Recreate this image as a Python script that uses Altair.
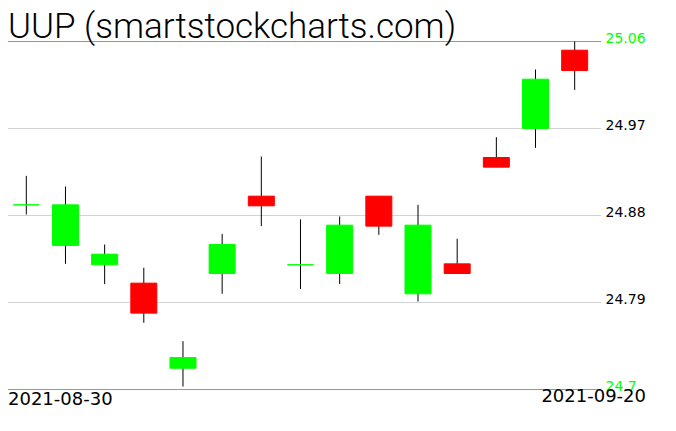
import altair as alt
import pandas as pd

# ---- data ----
dates = ["2021-08-30", "2021-08-31", "2021-09-01", "2021-09-02", "2021-09-03",
         "2021-09-07", "2021-09-08", "2021-09-09", "2021-09-10", "2021-09-13",
         "2021-09-14", "2021-09-15", "2021-09-16", "2021-09-17", "2021-09-20"]
opens = [24.891, 24.849, 24.829, 24.810, 24.722, 24.820, 24.900, 24.829,
         24.820, 24.900, 24.799, 24.830, 24.940, 24.970, 25.051]
closes = [24.891, 24.891, 24.840, 24.779, 24.733, 24.850, 24.890, 24.829,
          24.870, 24.869, 24.870, 24.820, 24.930, 25.021, 25.030]
highs = [24.921, 24.910, 24.850, 24.826, 24.750, 24.861, 24.941, 24.876,
         24.879, 24.900, 24.891, 24.856, 24.961, 25.031, 25.060]
lows = [24.881, 24.830, 24.809, 24.769, 24.703, 24.799, 24.869, 24.804,
        24.809, 24.860, 24.791, 24.820, 24.930, 24.950, 25.010]
ticks = [24.7, 24.79, 24.88, 24.97, 25.06]
mid_ticks = [24.79, 24.88, 24.97]
edge_ticks = [24.7, 25.06]
title_text = "UUP (smartstockcharts.com)"

df = pd.DataFrame({"date": dates, "open": opens, "close": closes,
                   "high": highs, "low": lows})
df["dir"] = ["up" if c >= o else "down" for o, c in zip(opens, closes)]

GREEN = "#00ff00"
RED = "#ff0000"

xscale = alt.Scale(range=[-1.285, 586.27], paddingInner=0, paddingOuter=0)
yscale = alt.Scale(domain=[24.68086, 25.09465], nice=False, zero=False)
col_scale = alt.Scale(domain=["up", "down"], range=[GREEN, RED])

edge = "datum.value == 24.7 || datum.value == 25.06"
yaxis = alt.Axis(
    orient="right", values=ticks, format="~g", title=None,
    domain=False, ticks=False, grid=False, labelPadding=4, labelOffset=1,
    labelBaseline="alphabetic", labelFont="DejaVu Sans", labelFontSize=14,
    labelColor={"condition": {"test": edge, "value": GREEN}, "value": "black"},
)

mid_grid = alt.Chart(pd.DataFrame({"v": mid_ticks})).mark_rule(
    color="#d3d3d3", strokeWidth=1
).encode(y=alt.Y("v:Q", scale=yscale, axis=yaxis))

edge_grid = alt.Chart(pd.DataFrame({"v": edge_ticks})).mark_rule(
    color=GREEN, strokeWidth=1, opacity=1
).encode(y=alt.Y("v:Q", scale=yscale, axis=yaxis))

base = alt.Chart(df).encode(
    x=alt.X("date:O", sort=dates, scale=xscale, axis=None)
)

wicks = base.mark_rule(color="black", strokeWidth=1).encode(
    y=alt.Y("low:Q", scale=yscale, axis=yaxis),
    y2="high:Q",
)

bodies = base.mark_bar(size=26, strokeWidth=1).encode(
    y=alt.Y("open:Q", scale=yscale, axis=yaxis),
    y2="close:Q",
    fill=alt.Fill("dir:N", scale=col_scale, legend=None),
    stroke=alt.Stroke("dir:N", scale=col_scale, legend=None),
)

title = alt.Chart(pd.DataFrame({"t": [title_text]})).mark_text(
    align="left", baseline="alphabetic", font="Roboto", fontSize=35,
    fontWeight=300, color="black"
).encode(x=alt.value(0), y=alt.value(30), text="t:N")

first_lab = alt.Chart(pd.DataFrame({"date": [dates[0]]})).mark_text(
    align="left", baseline="alphabetic", font="DejaVu Sans", fontSize=18,
    color="black", dx=-18.3, dy=15.5
).encode(x=alt.X("date:O", sort=dates, scale=xscale, axis=None),
         y=alt.datum(24.7), text="date:N")

last_lab = alt.Chart(pd.DataFrame({"date": [dates[-1]]})).mark_text(
    align="right", baseline="alphabetic", font="DejaVu Sans", fontSize=18,
    color="black", dx=71.3, dy=12.5
).encode(x=alt.X("date:O", sort=dates, scale=xscale, axis=None),
         y=alt.datum(24.7), text="date:N")

chart = alt.layer(mid_grid, edge_grid, wicks, bodies, title, first_lab,
                  last_lab).properties(
    width=593, height=400,
    autosize=alt.AutoSizeParams(type="none"),
    padding={"left": 0, "top": 0, "right": 52, "bottom": 0},
).configure_view(stroke=None)

chart.save("out.html", embed_options={"renderer": "svg", "actions": False})
